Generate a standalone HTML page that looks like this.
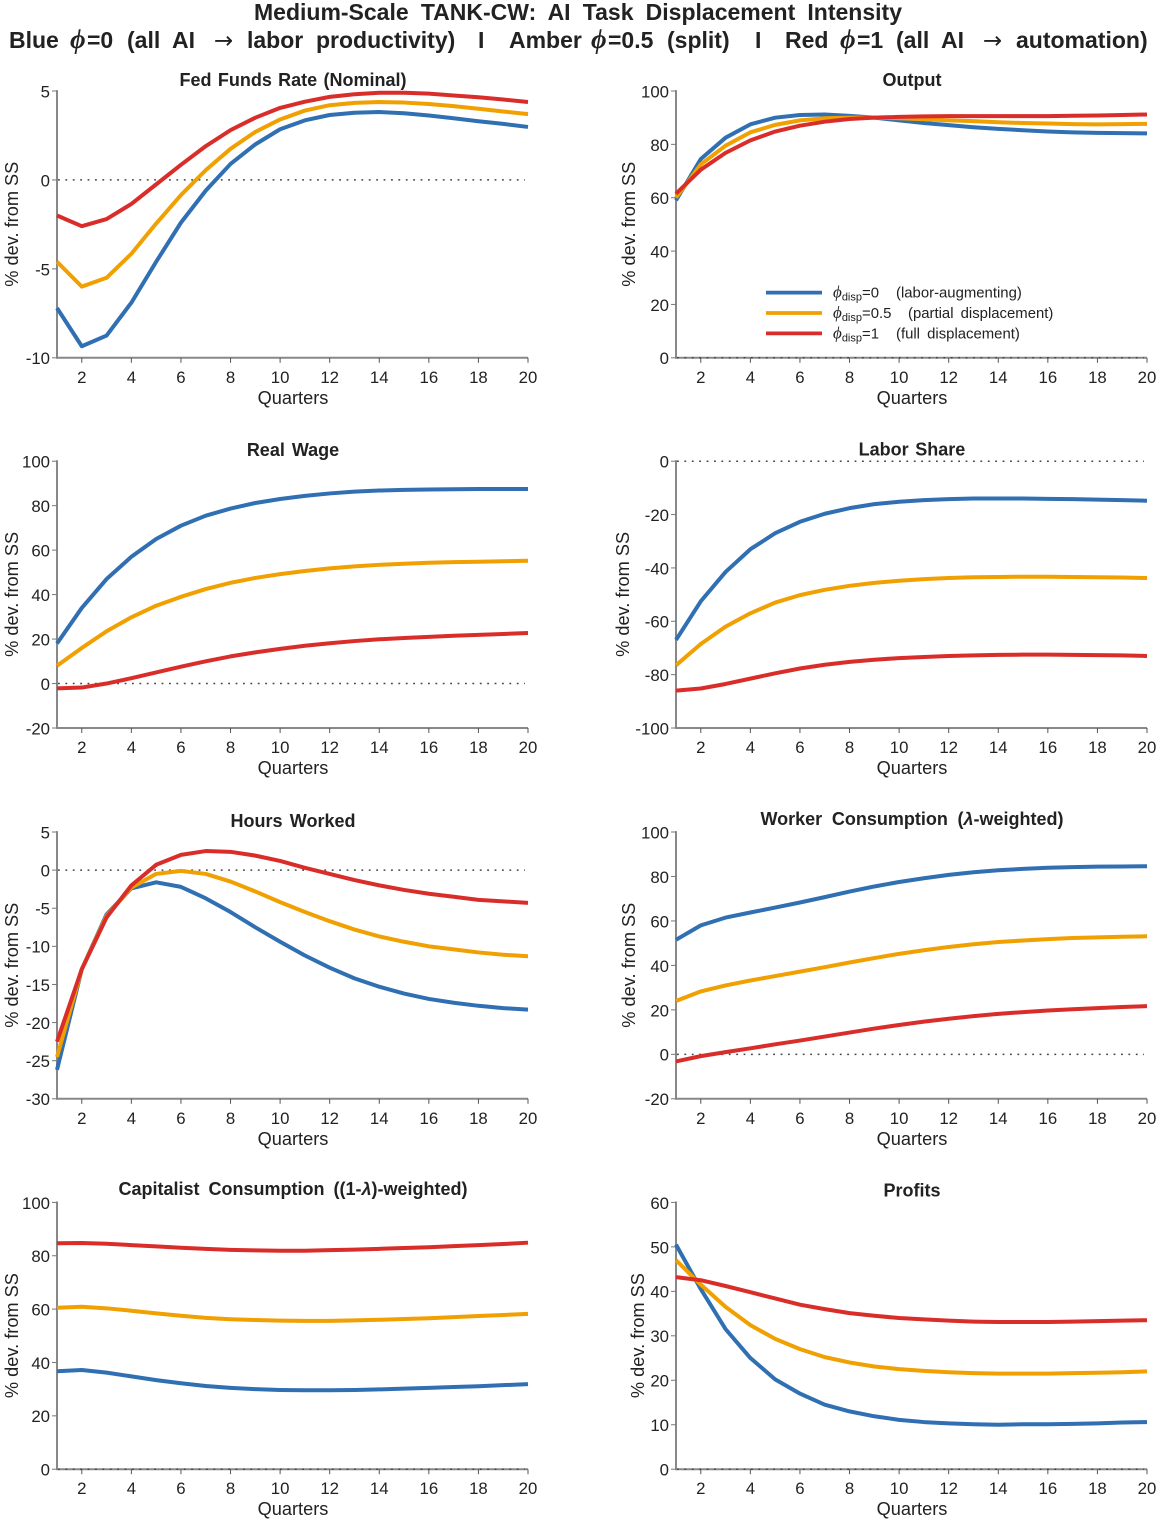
<!DOCTYPE html>
<html lang="en">
<head>
<meta charset="utf-8">
<title>Medium-Scale TANK-CW: AI Task Displacement Intensity</title>
<style>
html,body{margin:0;padding:0;background:#fff;}
svg{display:block;}
text{font-family:"Liberation Sans",Arial,sans-serif;fill:#222;}
.phi{font-family:"Liberation Serif","DejaVu Serif",serif;font-style:italic;}
.sup{font-size:23px;font-weight:bold;word-spacing:5.8px;}
.supphi{font-size:27px;font-weight:bold;}
.arrow{font-family:"DejaVu Sans",sans-serif;font-size:23px;font-weight:normal;}
.ptitle{font-size:18px;font-weight:bold;}
.tick{font-size:16.8px;}
.axl{font-size:18.2px;}
.leg{font-size:14.9px;word-spacing:3px;}
.legphi{font-size:17px;}
</style>
</head>
<body>
<svg id="fig" xmlns="http://www.w3.org/2000/svg" width="1158" height="1519" viewBox="0 0 1158 1519">
  <text class="sup" x="578" y="20" text-anchor="middle">Medium-Scale TANK-CW: AI Task Displacement Intensity</text>
  <text class="sup" y="48"><tspan x="9">Blue</tspan> <tspan x="70" class="phi supphi">ϕ</tspan><tspan x="87">=0</tspan> <tspan x="127">(all</tspan> <tspan x="172">AI</tspan> <tspan x="214" class="arrow">→</tspan> <tspan x="247">labor</tspan> <tspan x="316">productivity)</tspan> <tspan x="478">I</tspan> <tspan x="509">Amber</tspan> <tspan x="591" class="phi supphi">ϕ</tspan><tspan x="608">=0.5</tspan> <tspan x="667">(split)</tspan> <tspan x="755">I</tspan> <tspan x="785">Red</tspan> <tspan x="840" class="phi supphi">ϕ</tspan><tspan x="857">=1</tspan> <tspan x="896">(all</tspan> <tspan x="941">AI</tspan> <tspan x="983" class="arrow">→</tspan> <tspan x="1016">automation)</tspan></text>
</svg>
<script>
// Shared horizontal axis
const quarters = [1,2,3,4,5,6,7,8,9,10,11,12,13,14,15,16,17,18,19,20];
const xTicks = [2,4,6,8,10,12,14,16,18,20];
const seriesNames = ['blue','amber','red'];
const seriesColors = ['#2f6fb2','#f0a000','#d92d2a'];

// Fed Funds Rate
const fedTicks = [-10,-5,0,5];
const fedBlue = [-7.2,-9.35,-8.75,-6.9,-4.6,-2.4,-0.6,0.9,2.0,2.85,3.35,3.65,3.78,3.82,3.75,3.62,3.47,3.3,3.15,2.98];
const fedAmber = [-4.6,-6.0,-5.5,-4.15,-2.45,-0.85,0.55,1.75,2.7,3.4,3.9,4.2,4.33,4.38,4.35,4.27,4.15,4.0,3.85,3.7];
const fedRed = [-2.0,-2.6,-2.2,-1.35,-0.25,0.85,1.9,2.8,3.5,4.05,4.4,4.67,4.82,4.9,4.9,4.85,4.75,4.65,4.52,4.38];

// Output
const outputTicks = [0,20,40,60,80,100];
const outputBlue = [59,74.5,82.5,87.5,90,91,91.2,90.7,90,89,88,87.2,86.4,85.8,85.3,84.8,84.5,84.3,84.2,84.1];
const outputAmber = [60,72.5,79.5,84.5,87.3,89,89.8,90,90,89.8,89.4,89,88.7,88.3,88,87.8,87.6,87.5,87.6,87.7];
const outputRed = [61.5,70.5,76.8,81.5,84.8,87,88.5,89.5,90,90.3,90.5,90.6,90.6,90.6,90.6,90.6,90.7,90.8,91,91.2];

// Real Wage
const wageTicks = [-20,0,20,40,60,80,100];
const wageBlue = [18,34,47,57,65,71,75.5,78.7,81.2,83,84.4,85.5,86.3,86.8,87.1,87.3,87.4,87.5,87.5,87.5];
const wageAmber = [8,16,23.5,29.8,35,39,42.5,45.3,47.5,49.2,50.6,51.8,52.7,53.4,53.9,54.3,54.6,54.8,55,55.2];
const wageRed = [-2.2,-1.8,0,2.4,5,7.6,10,12.2,14,15.6,17,18.1,19.1,19.9,20.5,21,21.5,21.9,22.3,22.7];

// Labor Share
const shareTicks = [-100,-80,-60,-40,-20,0];
const shareBlue = [-67,-52.5,-41.5,-33,-27,-22.7,-19.7,-17.6,-16.1,-15.2,-14.6,-14.2,-14,-14,-14,-14.1,-14.2,-14.4,-14.6,-14.8];
const shareAmber = [-76.5,-68.5,-62,-57,-53,-50.2,-48.2,-46.7,-45.6,-44.8,-44.2,-43.8,-43.5,-43.4,-43.3,-43.3,-43.4,-43.5,-43.6,-43.8];
const shareRed = [-86,-85.2,-83.5,-81.5,-79.5,-77.7,-76.3,-75.2,-74.4,-73.8,-73.4,-73,-72.8,-72.6,-72.5,-72.5,-72.6,-72.7,-72.8,-73];

// Hours Worked
const hoursTicks = [-30,-25,-20,-15,-10,-5,0,5];
const hoursBlue = [-26.2,-13,-5.8,-2.4,-1.6,-2.2,-3.7,-5.5,-7.5,-9.4,-11.2,-12.8,-14.2,-15.3,-16.2,-16.9,-17.4,-17.8,-18.1,-18.3];
const hoursAmber = [-24.5,-13,-6,-2.3,-0.5,-0.1,-0.5,-1.5,-2.8,-4.2,-5.5,-6.7,-7.8,-8.7,-9.4,-10,-10.4,-10.8,-11.1,-11.3];
const hoursRed = [-22.5,-13,-6.2,-2,0.7,2,2.5,2.4,1.9,1.2,0.3,-0.5,-1.3,-2,-2.6,-3.1,-3.5,-3.9,-4.1,-4.3];

// Worker Consumption
const workerTicks = [-20,0,20,40,60,80,100];
const workerBlue = [51.5,58,61.5,63.8,66,68.3,70.7,73.2,75.5,77.5,79.2,80.7,81.9,82.8,83.4,83.9,84.2,84.4,84.5,84.6];
const workerAmber = [24,28.3,31,33.2,35.2,37.2,39.2,41.3,43.3,45.2,46.8,48.3,49.5,50.5,51.2,51.8,52.3,52.6,52.9,53.1];
const workerRed = [-3.2,-0.8,1,2.7,4.5,6.2,8,9.8,11.6,13.2,14.7,16,17.2,18.2,19,19.7,20.3,20.8,21.3,21.7];

// Capitalist Consumption
const capTicks = [0,20,40,60,80,100];
const capBlue = [36.7,37.2,36.2,34.8,33.4,32.2,31.2,30.5,30,29.7,29.6,29.6,29.7,29.9,30.2,30.5,30.8,31.1,31.5,31.9];
const capAmber = [60.5,60.9,60.3,59.4,58.4,57.5,56.7,56.2,55.9,55.7,55.6,55.6,55.8,56,56.3,56.6,57,57.4,57.8,58.2];
const capRed = [84.7,84.8,84.5,84,83.5,83,82.6,82.2,82,81.9,81.9,82.1,82.3,82.6,82.9,83.2,83.6,84,84.4,84.9];

// Profits
const profitTicks = [0,10,20,30,40,50,60];
const profitBlue = [50.5,40.5,31.5,25,20.2,17,14.5,13,11.9,11.1,10.6,10.3,10.1,10,10.1,10.1,10.2,10.3,10.5,10.6];
const profitAmber = [47,41.5,36.5,32.4,29.3,27,25.2,24,23.1,22.5,22.1,21.8,21.6,21.5,21.5,21.5,21.6,21.7,21.8,22];
const profitRed = [43.2,42.5,41.2,39.8,38.4,37,36,35.1,34.5,34,33.7,33.4,33.2,33.1,33.1,33.1,33.2,33.3,33.4,33.5];

const NS = 'http://www.w3.org/2000/svg';
const fig = document.getElementById('fig');

function make(parent, tag, attrs, text) {
  const el = document.createElementNS(NS, tag);
  for (const k in attrs) el.setAttribute(k, attrs[k]);
  if (text !== undefined) el.textContent = text;
  parent.appendChild(el);
  return el;
}

function xScaleFor(left, right) {
  return q => left + (q - 1) * (right - left) / 19;
}
function yScaleFor(top, bottom, ticks) {
  const lo = Math.min.apply(null, ticks);
  const hi = Math.max.apply(null, ticks);
  return v => bottom - (v - lo) * (bottom - top) / (hi - lo);
}

function drawPanel(cfg) {
  const x = xScaleFor(cfg.left, cfg.left + 471);
  const bottom = cfg.top + 266.8;
  const y = yScaleFor(cfg.top, bottom, cfg.ticks);
  const g = make(fig, 'g', {});
  
  

  const title = make(g, 'text', {class: 'ptitle', x: cfg.left + 236, y: cfg.top + cfg.titleDy, 'text-anchor': 'middle', 'word-spacing': cfg.ws});
  
  
  title.innerHTML = cfg.title;

  const yLabel = make(g, 'text', {class: 'axl', 'text-anchor': 'middle', transform: 'translate(' + cfg.ylabX + ',' + (cfg.top + 133.2) + ') rotate(-90)'}, '% dev. from SS');
  
  

  const xLabel = make(g, 'text', {class: 'axl', x: cfg.left + 236, y: bottom + 46, 'text-anchor': 'middle'}, 'Quarters');
  
  

  const yAxis = make(g, 'line', {x1: cfg.left, x2: cfg.left, y1: cfg.top - 0.9, y2: bottom + 0.9, stroke: '#888', 'stroke-width': 2});
  
  

  const xAxis = make(g, 'line', {x1: cfg.left, x2: cfg.left + 471, y1: bottom, y2: bottom, stroke: '#888', 'stroke-width': 2});
  
  

  cfg.ticks.forEach(t => {
    make(g, 'line', {x1: cfg.left - 5, x2: cfg.left, y1: y(t), y2: y(t), stroke: '#777', 'stroke-width': 1});
    const lab = make(g, 'text', {class: 'tick', x: cfg.left - 7, y: y(t) + 6.4, 'text-anchor': 'end'}, String(t));
    
    
  });
  xTicks.forEach(t => {
    make(g, 'line', {x1: x(t), x2: x(t), y1: bottom, y2: bottom + 5, stroke: '#555', 'stroke-width': 1});
    const lab = make(g, 'text', {class: 'tick', x: x(t), y: bottom + 25, 'text-anchor': 'middle'}, String(t));
    
    
  });

  const zero = make(g, 'line', {x1: cfg.left + 1, x2: cfg.left + 468, y1: y(0), y2: y(0), stroke: '#444', 'stroke-width': 1.5, 'stroke-dasharray': '1.8 5.6'});
  
  

  cfg.series.forEach((values, i) => {
    const pts = values.map((v, j) => x(quarters[j]).toFixed(2) + ',' + y(v).toFixed(2)).join(' ');
    const line = make(g, 'polyline', {points: pts, fill: 'none', stroke: seriesColors[i], 'stroke-width': 4, 'stroke-linejoin': 'round'});
    
    
  });
}

drawPanel({name:'fed-funds-rate', title:'Fed Funds Rate (Nominal)', left:57, top:91, titleDy:-5, ws:1.3, ylabX:18, ticks:fedTicks, series:[fedBlue,fedAmber,fedRed]});
drawPanel({name:'output', title:'Output', left:676, top:91, titleDy:-5, ws:0, ylabX:635, ticks:outputTicks, series:[outputBlue,outputAmber,outputRed]});
drawPanel({name:'real-wage', title:'Real Wage', left:57, top:461.2, titleDy:-5.2, ws:2, ylabX:18, ticks:wageTicks, series:[wageBlue,wageAmber,wageRed]});
drawPanel({name:'labor-share', title:'Labor Share', left:676, top:461.2, titleDy:-5.7, ws:1.6, ylabX:629, ticks:shareTicks, series:[shareBlue,shareAmber,shareRed]});
drawPanel({name:'hours-worked', title:'Hours Worked', left:57, top:832, titleDy:-5, ws:2.3, ylabX:18, ticks:hoursTicks, series:[hoursBlue,hoursAmber,hoursRed]});
drawPanel({name:'worker-consumption', title:'Worker Consumption (<tspan font-style="italic">λ</tspan>-weighted)', left:676, top:832, titleDy:-7, ws:4.7, ylabX:635, ticks:workerTicks, series:[workerBlue,workerAmber,workerRed]});
drawPanel({name:'capitalist-consumption', title:'Capitalist Consumption ((1-<tspan font-style="italic">λ</tspan>)-weighted)', left:57, top:1202.4, titleDy:-7.6, ws:4, ylabX:18, ticks:capTicks, series:[capBlue,capAmber,capRed]});
drawPanel({name:'profits', title:'Profits', left:676, top:1202.4, titleDy:-5.9, ws:0, ylabX:644, ticks:profitTicks, series:[profitBlue,profitAmber,profitRed]});

// Legend (inside Output panel)
const legendSuffix = ['=0', '=0.5', '=1'];
const legendNotes = ['(labor-augmenting)', '(partial displacement)', '(full displacement)'];
const legend = make(fig, 'g', {});


[0, 1, 2].forEach(i => {
  const row = 292.6 + i * 20.4;
  const entry = make(legend, 'g', {});
  
  
  make(entry, 'line', {x1: 766, x2: 822, y1: row, y2: row, stroke: seriesColors[i], 'stroke-width': 3.8});
  const label = make(entry, 'text', {class: 'leg', x: 833, y: row + 5});
  label.innerHTML = '<tspan class="phi legphi">ϕ</tspan><tspan font-size="11" dy="3">disp</tspan><tspan dy="-3">' + legendSuffix[i] + '</tspan>';
  const note = make(entry, 'text', {class: 'leg', x: [896, 908, 896][i], y: row + 5}, legendNotes[i]);
  
  
});
</script>
</body>
</html>
